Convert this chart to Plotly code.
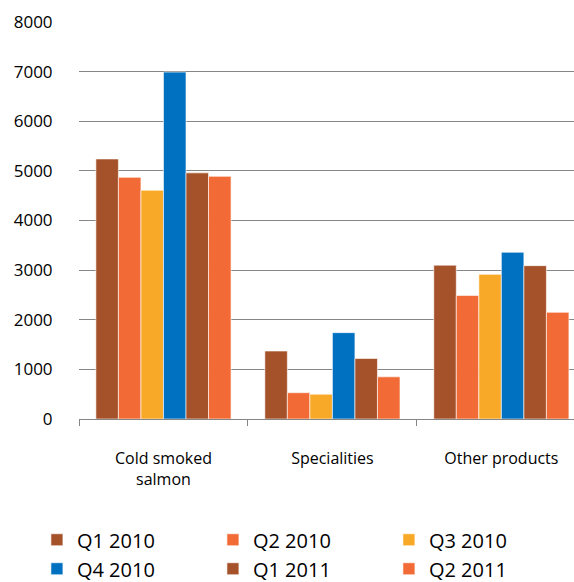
import plotly.graph_objects as go

categories = ["Cold smoked<br>salmon", "Specialities", "Other products"]
series_names = ["Q1 2010", "Q2 2010", "Q3 2010", "Q4 2010", "Q1 2011", "Q2 2011"]
q1_2010 = [5240, 1370, 3100]
q2_2010 = [4870, 530, 2490]
q3_2010 = [4610, 500, 2915]
q4_2010 = [6990, 1740, 3360]
q1_2011 = [4960, 1220, 3090]
q2_2011 = [4890, 850, 2150]
y_ticks = [0, 1000, 2000, 3000, 4000, 5000, 6000, 7000, 8000]

values = [q1_2010, q2_2010, q3_2010, q4_2010, q1_2011, q2_2011]
colors = ["#A5522A", "#F26A36", "#F9A928", "#0070C0", "#A5522A", "#F26A36"]

fig = go.Figure()
for name, vals, col in zip(series_names, values, colors):
    fig.add_trace(go.Bar(
        x=categories, y=vals, name=name,
        marker=dict(color=col, line=dict(color="rgba(255,255,255,0.6)", width=1)),
    ))

font_family = "Open Sans, Liberation Sans, sans-serif"
fig.update_layout(
    width=574, height=582,
    margin=dict(l=79, r=0, t=22, b=163, autoexpand=False),
    paper_bgcolor="white", plot_bgcolor="white",
    barmode="group", bargap=0.2, bargroupgap=0,
    font=dict(family=font_family, color="#000000"),
    showlegend=True,
    legend=dict(
        orientation="h", x=-0.085, xanchor="left", y=-0.255, yanchor="top",
        font=dict(size=20, family=font_family, color="#000000"),
        entrywidth=131, entrywidthmode="pixels",
        traceorder="normal", itemclick=False,
    ),
    xaxis=dict(
        range=[-0.5, 2.43], automargin=False,
        showgrid=False, showline=True, linecolor="#868686", linewidth=1,
        ticks="outside", tickson="boundaries", ticklen=6, tickcolor="#868686",
        ticklabelstandoff=25,
        tickfont=dict(size=16, family=font_family, color="#000000"),
        zeroline=False,
    ),
    yaxis=dict(
        range=[0, 8000], tickvals=y_ticks, automargin=False,
        showgrid=True, gridcolor="#868686", gridwidth=1,
        showline=False, zeroline=False,
        ticks="outside", ticklen=22, tickcolor="rgba(0,0,0,0)",
        tickfont=dict(size=17, family=font_family, color="#000000"),
    ),
)

fig.write_html("out.html")
